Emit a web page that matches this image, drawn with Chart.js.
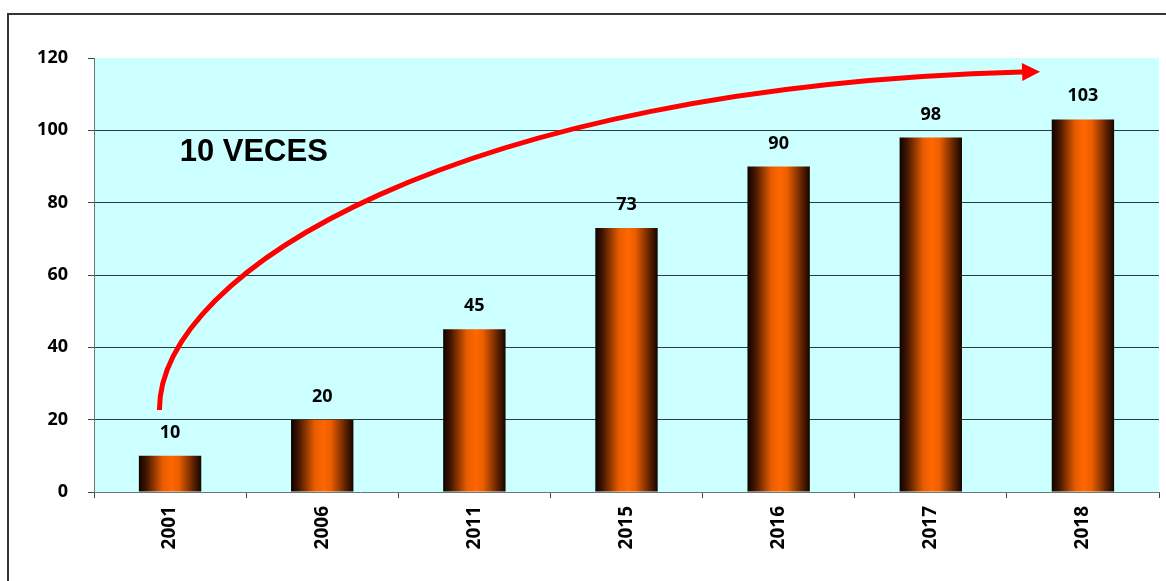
<!DOCTYPE html>
<html>
<head>
<meta charset="utf-8">
<script src="https://cdn.jsdelivr.net/npm/chart.js@4/dist/chart.umd.min.js"></script>
<style>
    html, body { margin: 0; padding: 0; background: #fff; }
    #wrap { position: relative; width: 1166px; height: 581px; }
</style>
</head>
<body>
<div id="wrap"><canvas id="myChart"></canvas></div>
<script>
// years and values for each bar
const years = ['2001', '2006', '2011', '2015', '2016', '2017', '2018'];
const values = [10, 20, 45, 73, 90, 98, 103];
const yTicks = [0, 20, 40, 60, 80, 100, 120];
const growthText = '10 VECES';

// arrow path in data units: [category index, value]
const arrowStart = [-0.07, 22.7];
const arrowCtrl1 = [-0.07, 61];
const arrowCtrl2 = [1.9, 112];
const arrowEnd = [5.6, 116.1];

const numFont = { family: "'Open Sans', sans-serif", size: 18, weight: 'bold' };

// horizontal shading for each bar (dark edges, orange middle)
function barFill(c) {
    const chart = c.chart;
    const xs = chart.scales.x;
    if (!xs || c.dataIndex === undefined || !chart.chartArea) {
        return '#ff6600';
    }
    const cx = xs.getPixelForValue(c.dataIndex);
    const w = xs.width / years.length * 0.41;
    const g = chart.ctx.createLinearGradient(cx - w / 2, 0, cx + w / 2, 0);
    g.addColorStop(0, '#0e0300');
    g.addColorStop(0.12, '#421600');
    g.addColorStop(0.38, '#e85c00');
    g.addColorStop(0.52, '#ff6600');
    g.addColorStop(0.64, '#ec5e00');
    g.addColorStop(0.88, '#5a2000');
    g.addColorStop(1, '#140500');
    return g;
}

const framePlugin = {
    id: 'frame',
    beforeDraw: function (chart) {
        const ctx = chart.ctx;
        const a = chart.chartArea;
        ctx.save();
        ctx.fillStyle = '#ccffff';
        ctx.fillRect(a.left, a.top, a.right - a.left, a.bottom - a.top);
        ctx.strokeStyle = '#333';
        ctx.lineWidth = 2;
        ctx.beginPath();
        ctx.moveTo(8, chart.height + 5);
        ctx.lineTo(8, 14);
        ctx.lineTo(chart.width + 5, 14);
        ctx.stroke();
        ctx.restore();
    }
};

const labelPlugin = {
    id: 'barLabels',
    afterDatasetsDraw: function (chart) {
        const ctx = chart.ctx;
        const xs = chart.scales.x;
        const ys = chart.scales.y;
        ctx.save();

        // value above each bar
        ctx.fillStyle = '#000';
        ctx.font = 'bold 18px "Open Sans", sans-serif';
        ctx.textAlign = 'center';
        ctx.textBaseline = 'alphabetic';
        chart.getDatasetMeta(0).data.forEach(function (bar, i) {
            ctx.fillText(String(values[i]), bar.x, bar.y - 18);
        });

        // growth caption
        ctx.font = 'bold 31px "Liberation Sans", Arial, sans-serif';
        ctx.textBaseline = 'middle';
        ctx.fillText(growthText, xs.getPixelForValue(0.55), ys.getPixelForValue(94));

        // curved red arrow
        const p0 = [xs.getPixelForValue(arrowStart[0]), ys.getPixelForValue(arrowStart[1])];
        const p1 = [xs.getPixelForValue(arrowCtrl1[0]), ys.getPixelForValue(arrowCtrl1[1])];
        const p2 = [xs.getPixelForValue(arrowCtrl2[0]), ys.getPixelForValue(arrowCtrl2[1])];
        const p3 = [xs.getPixelForValue(arrowEnd[0]), ys.getPixelForValue(arrowEnd[1])];
        ctx.strokeStyle = '#ff0000';
        ctx.fillStyle = '#ff0000';
        ctx.lineWidth = 5;
        ctx.lineCap = 'butt';
        ctx.beginPath();
        ctx.moveTo(p0[0], p0[1]);
        ctx.bezierCurveTo(p1[0], p1[1], p2[0], p2[1], p3[0], p3[1]);
        ctx.stroke();

        const ang = Math.atan2(p3[1] - p2[1], p3[0] - p2[0]);
        const len = 18, half = 9;
        const tip = [p3[0] + Math.cos(ang) * len, p3[1] + Math.sin(ang) * len];
        ctx.beginPath();
        ctx.moveTo(tip[0], tip[1]);
        ctx.lineTo(p3[0] - Math.sin(ang) * half, p3[1] + Math.cos(ang) * half);
        ctx.lineTo(p3[0] + Math.sin(ang) * half, p3[1] - Math.cos(ang) * half);
        ctx.closePath();
        ctx.fill();
        ctx.restore();
    }
};

const ctx = document.getElementById('myChart');

new Chart(ctx, {
    type: 'bar',
    data: {
        labels: years,
        datasets: [{
                data: values,
                backgroundColor: barFill,
                borderWidth: 0,
                categoryPercentage: 1,
                barPercentage: 0.41
            }]
    },
    options: {
        responsive: true,
        maintainAspectRatio: false,
        animation: false,
        layout: {
            padding: { left: 0, top: 58, right: 7, bottom: 0 }
        },
        plugins: {
            legend: { display: false },
            tooltip: { enabled: false }
        },
        scales: {
            x: {
                offset: true,
                afterFit: function (scale) { scale.height = 89; },
                grid: {
                    offset: true,
                    drawOnChartArea: false,
                    tickLength: 6,
                    tickColor: '#444'
                },
                border: { color: '#6a7777', width: 1 },
                ticks: {
                    color: '#000',
                    font: { family: "'Open Sans', sans-serif", size: 19, weight: 'bold' },
                    minRotation: 90,
                    maxRotation: 90,
                    padding: 8
                }
            },
            y: {
                min: yTicks[0],
                max: yTicks[yTicks.length - 1],
                afterFit: function (scale) { scale.width = 94; },
                afterBuildTicks: function (scale) {
                    scale.ticks = yTicks.map(function (v) { return { value: v }; });
                },
                grid: {
                    color: function (c) {
                        const v = c.tick ? c.tick.value : 0;
                        return (v === yTicks[0] || v === yTicks[yTicks.length - 1]) ? 'rgba(0,0,0,0)' : '#2f3b3b';
                    },
                    tickColor: '#444',
                    tickLength: 6
                },
                border: { color: '#6a7777', width: 1 },
                ticks: {
                    color: '#000',
                    font: numFont,
                    padding: 20
                }
            }
        }
    },
    plugins: [framePlugin, labelPlugin]
});
</script>
</body>
</html>
